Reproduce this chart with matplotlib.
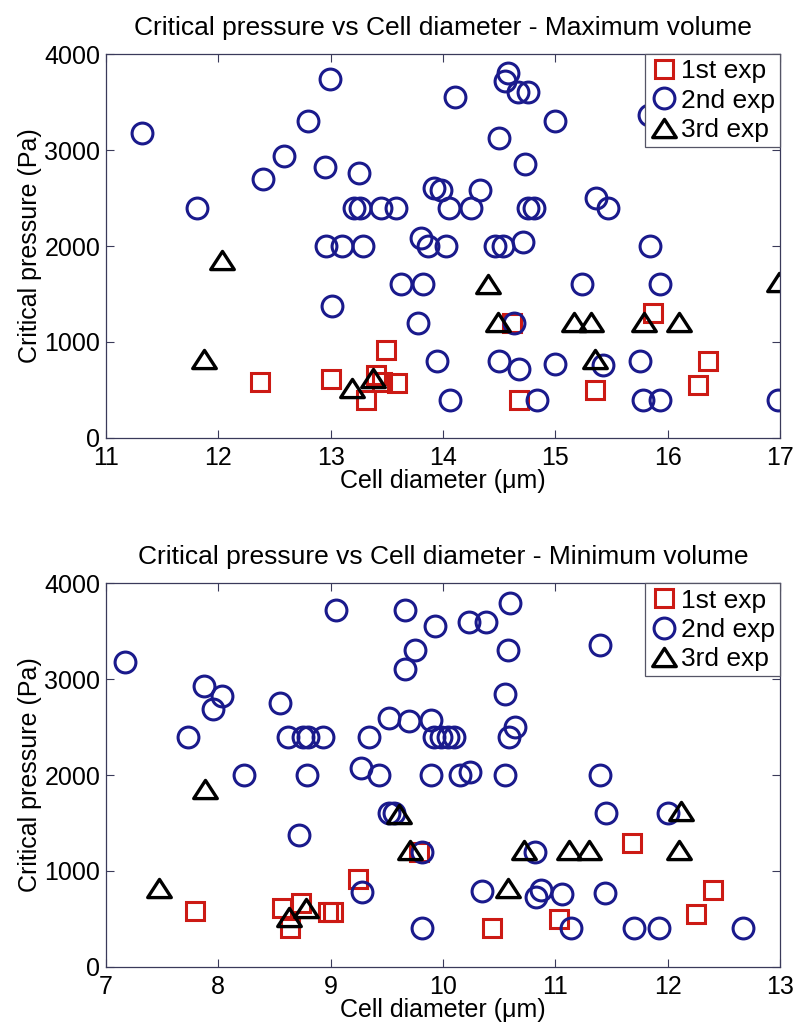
import matplotlib
matplotlib.use("Agg")
import matplotlib.pyplot as plt
from matplotlib.path import Path

plt.rcParams['font.family'] = ['Liberation Sans', 'DejaVu Sans']

# ---- top panel: maximum volume ----
max_sq_x = [12.37, 13.00, 13.49, 13.40, 13.46, 13.59, 13.31, 14.61, 15.87, 16.36, 16.27, 15.35, 14.68]
max_sq_y = [580, 610, 920, 660, 580, 570, 400, 1200, 1300, 800, 550, 500, 400]

max_ci_x = [11.32, 11.81, 12.40, 12.58, 12.80, 12.99, 12.95, 13.25, 13.21, 13.26,
            13.45, 13.58, 12.96, 13.10, 13.29, 13.01, 13.63, 13.82, 13.80, 13.87,
            13.78, 13.95, 14.06, 13.92, 13.98, 14.05, 14.03, 14.11, 14.58, 14.55,
            14.67, 14.76, 15.00, 14.50, 14.73, 14.25, 14.33, 14.76, 14.81, 15.36,
            15.47, 14.46, 14.53, 14.71, 15.84, 15.24, 15.93, 14.63, 14.50, 14.68,
            15.00, 15.42, 15.75, 14.84, 15.78, 15.93, 16.98, 15.83]
max_ci_y = [3180, 2400, 2700, 2940, 3300, 3740, 2820, 2760, 2400, 2400,
            2400, 2400, 2000, 2000, 2000, 1370, 1600, 1600, 2080, 2000,
            1200, 800, 400, 2600, 2580, 2400, 2000, 3550, 3800, 3720,
            3600, 3600, 3300, 3120, 2850, 2400, 2580, 2400, 2400, 2500,
            2400, 2000, 2000, 2040, 2000, 1600, 1600, 1200, 800, 720,
            770, 760, 800, 400, 400, 400, 400, 3360]

max_tr_x = [12.03, 11.87, 13.19, 13.38, 14.40, 14.49, 15.17, 15.32, 15.79, 16.10, 15.35, 16.99]
max_tr_y = [1850, 820, 520, 620, 1600, 1210, 1210, 1210, 1210, 1210, 820, 1620]

# ---- bottom panel: minimum volume ----
min_sq_x = [7.79, 8.57, 8.74, 8.64, 8.98, 9.02, 9.24, 9.79, 10.44, 11.03, 11.68, 12.40, 12.25]
min_sq_y = [580, 610, 660, 400, 570, 570, 920, 1200, 400, 500, 1290, 800, 550]

min_ci_x = [7.17, 7.87, 8.03, 7.95, 7.73, 8.23, 8.55, 8.62, 8.75, 8.80,
            8.93, 8.79, 8.72, 9.05, 9.28, 9.34, 9.27, 9.43, 9.52, 9.70,
            9.89, 9.92, 9.98, 10.04, 10.10, 9.89, 9.66, 9.93, 9.75, 9.66,
            9.52, 9.56, 9.81, 9.81, 10.23, 10.38, 10.60, 10.58, 10.55, 10.64,
            10.59, 10.15, 10.24, 10.55, 11.40, 11.40, 11.45, 12.00, 10.82, 10.35,
            10.83, 10.87, 11.06, 11.44, 11.14, 11.70, 11.92, 12.67]
min_ci_y = [3180, 2930, 2820, 2690, 2400, 2000, 2750, 2400, 2400, 2400,
            2400, 2000, 1370, 3720, 780, 2400, 2070, 2000, 2600, 2560,
            2570, 2400, 2400, 2400, 2400, 2000, 3720, 3550, 3300, 3110,
            1600, 1600, 1200, 400, 3600, 3600, 3790, 3300, 2850, 2500,
            2400, 2000, 2030, 2000, 3360, 2000, 1600, 1600, 1200, 790,
            730, 800, 760, 770, 400, 400, 400, 400]

min_tr_x = [7.47, 7.88, 8.63, 8.78, 9.61, 9.71, 10.58, 10.72, 11.12, 11.30, 12.10, 12.12]
min_tr_y = [820, 1850, 520, 610, 1590, 1220, 820, 1220, 1220, 1220, 1220, 1620]

labels = ['1st exp', '2nd exp', '3rd exp']

# wide triangle like the MATLAB one
tri = Path([(0, 0.77), (-1, -0.77), (1, -0.77), (0, 0.77)],
           [Path.MOVETO, Path.LINETO, Path.LINETO, Path.CLOSEPOLY])

red = '#cc1a14'
navy = '#1a1a8c'
frame = '#3a3a5a'
fs = 18


def panel(ax, sx, sy, cx, cy, tx, ty, xlim, title):
    ax.plot(sx, sy, 's', ms=12.5, mfc='none', mec=red, mew=2.2, label=labels[0])
    ax.plot(cx, cy, 'o', ms=15, mfc='none', mec=navy, mew=2.2, label=labels[1])
    ax.plot(tx, ty, ls='none', marker=tri, ms=17, mfc='none', mec='black', mew=2.4,
            label=labels[2])
    ax.set_xlim(*xlim)
    ax.set_ylim(0, 4000)
    ax.set_xticks(range(xlim[0], xlim[1] + 1))
    ax.set_yticks([0, 1000, 2000, 3000, 4000])
    ax.tick_params(direction='in', top=True, right=True, length=6, width=0.8,
                   colors=frame, labelcolor='black', labelsize=fs)
    ax.tick_params(axis='x', pad=6)
    ax.tick_params(axis='y', pad=4)
    for s in ax.spines.values():
        s.set_color(frame)
        s.set_linewidth(0.9)
    ax.set_title(title, fontsize=19, pad=14)
    ax.set_xlabel('Cell diameter (\u03bcm)', fontsize=fs, labelpad=-1)
    ax.set_ylabel('Critical pressure (Pa)', fontsize=fs, labelpad=2)
    leg = ax.legend(loc='upper right', fontsize=19, borderaxespad=0.0,
                    handletextpad=0.15, handlelength=1.0, borderpad=0.2,
                    labelspacing=0.2, fancybox=False, framealpha=1,
                    edgecolor='#555566')
    leg.get_frame().set_linewidth(0.9)


fig = plt.figure(figsize=(7.99, 10.25), dpi=100)
ax1 = fig.add_axes([0.1327, 0.5727, 0.8436, 0.3746])
ax2 = fig.add_axes([0.1327, 0.0569, 0.8436, 0.374])

panel(ax1, max_sq_x, max_sq_y, max_ci_x, max_ci_y, max_tr_x, max_tr_y, (11, 17),
      'Critical pressure vs Cell diameter - Maximum volume')
panel(ax2, min_sq_x, min_sq_y, min_ci_x, min_ci_y, min_tr_x, min_tr_y, (7, 13),
      'Critical pressure vs Cell diameter - Minimum volume')

fig.savefig('out.png', dpi=100)
